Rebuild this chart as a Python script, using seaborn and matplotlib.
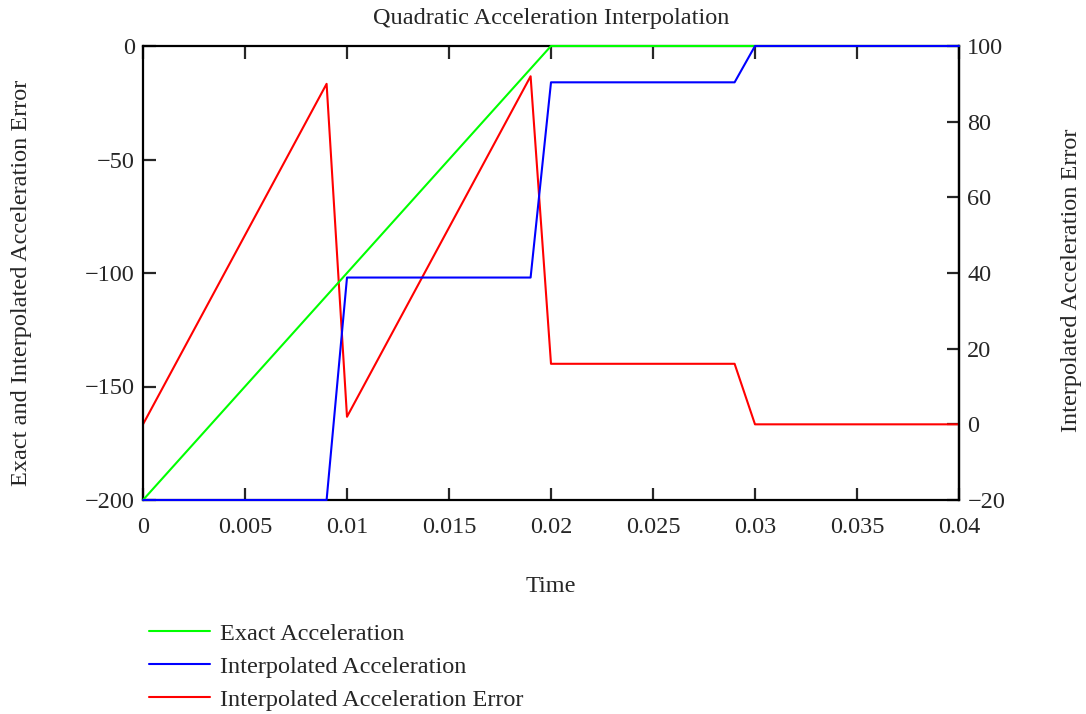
import matplotlib
matplotlib.use("Agg")
import matplotlib.pyplot as plt
import seaborn as sns
import pandas as pd

time = [0.0, 0.009, 0.010, 0.019, 0.020, 0.029, 0.030, 0.040]
exact_acc = [-200, -110, -100, -10, 0, 0, 0, 0]
interp_acc = [-200, -200, -102, -102, -16, -16, 0, 0]
interp_err = [0, 90, 2, 92, 16, 16, 0, 0]

x_ticks = [0, 0.005, 0.01, 0.015, 0.02, 0.025, 0.03, 0.035, 0.04]
x_tick_labels = ["0", "0.005", "0.01", "0.015", "0.02", "0.025", "0.03", "0.035", "0.04"]
left_ticks = [0, -50, -100, -150, -200]
right_ticks = [-20, 0, 20, 40, 60, 80, 100]

sns.set_style("ticks")
plt.rcParams['font.family'] = ['Liberation Serif', 'DejaVu Serif']
plt.rcParams['axes.unicode_minus'] = True
FS = 17.5

fig = plt.figure(figsize=(10.86, 7.14), dpi=100)
ax = fig.add_axes([143/1086, 1-500/714, (959-143)/1086, (500-46)/714])
ax2 = ax.twinx()
ax2.set_zorder(ax.get_zorder() - 1)
ax.patch.set_visible(False)

df = pd.DataFrame({"t": time, "exact": exact_acc, "interp": interp_acc, "err": interp_err})
sns.lineplot(data=df, x="t", y="err", ax=ax2, color="#FF0000", lw=1.5, label="Interpolated Acceleration Error", legend=False)
sns.lineplot(data=df, x="t", y="exact", ax=ax, color="#00FF00", lw=1.5, label="Exact Acceleration", legend=False)
sns.lineplot(data=df, x="t", y="interp", ax=ax, color="#0000FF", lw=1.5, label="Interpolated Acceleration", legend=False)
for a in (ax, ax2):
    for ln in a.lines:
        ln.set_clip_on(False)
        ln.set_zorder(5)

ax.set_xlim(0, 0.04)
ax.set_ylim(-200, 0)
ax2.set_ylim(-20, 100)
ax.set_xticks(x_ticks)
ax.set_xticklabels(x_tick_labels)
ax.set_yticks(left_ticks)
ax2.set_yticks(right_ticks)

for name in ("top", "bottom", "left"):
    ax2.spines[name].set_visible(False)
for a in (ax, ax2):
    for s in a.spines.values():
        s.set_color("black")
        s.set_linewidth(1.6)
        s.set_zorder(2)
ax.spines["right"].set_visible(True)
ax.tick_params(axis="x", which="both", direction="in", top=True, bottom=True, length=9, width=1.6, labelsize=FS, pad=12)
ax.tick_params(axis="y", direction="in", length=9, width=1.6, labelsize=FS, pad=6)
ax2.tick_params(axis="y", direction="in", length=9, width=1.6, labelsize=FS, pad=6)

ax.set_xlabel("Time", fontsize=FS)
ax.xaxis.set_label_coords(0.5, (500-586)/454, transform=ax.transAxes)
ax.xaxis.label.set_va("center")
ax.set_ylabel("Exact and Interpolated Acceleration Error", fontsize=FS)
ax.yaxis.set_label_coords((22-143)/816, (500-283)/454)
ax.yaxis.label.set_va("center")
ax2.set_ylabel("Interpolated Acceleration Error", fontsize=FS)
ax2.yaxis.set_label_coords((1072-143)/816, (500-280)/454)
ax2.yaxis.label.set_va("center")
ax.set_title("Quadratic Acceleration Interpolation", fontsize=FS, pad=16)

h1, l1 = ax.get_legend_handles_labels()
h2, l2 = ax2.get_legend_handles_labels()
fig.legend(h1 + h2, l1 + l2, loc="upper left", bbox_to_anchor=(127/1086, 1-601/714),
           frameon=False, fontsize=FS, handlelength=2.5, handletextpad=0.42, labelspacing=0.45)

fig.savefig("out.png", dpi=100)
